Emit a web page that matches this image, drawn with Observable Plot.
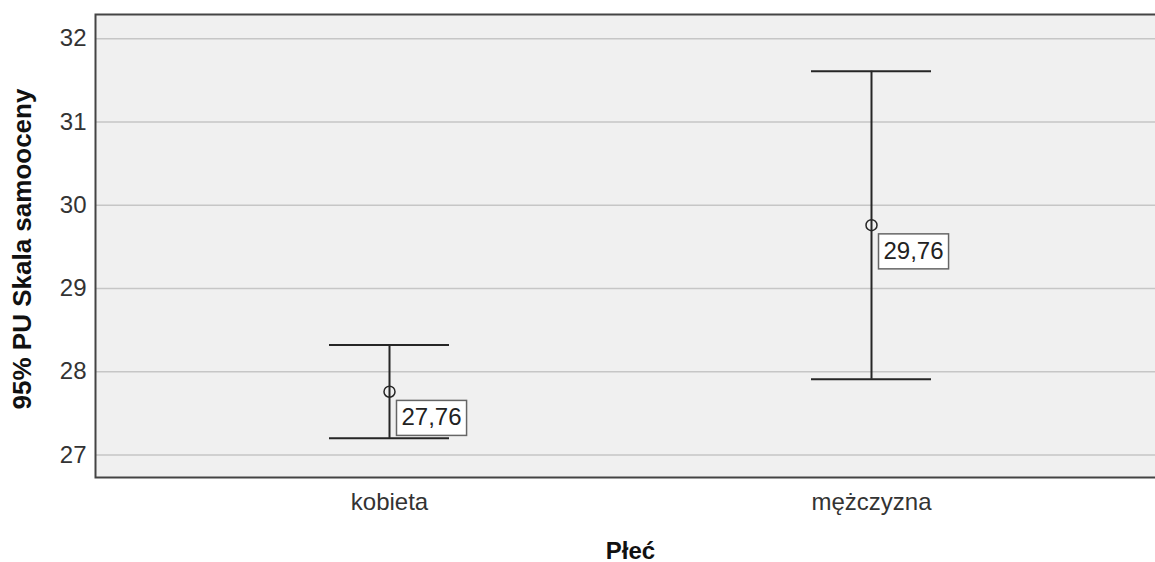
<!DOCTYPE html>
<html>
<head>
<meta charset="utf-8">
<script src="https://cdn.jsdelivr.net/npm/d3@7"></script>
<script src="https://cdn.jsdelivr.net/npm/@observablehq/plot@0.6"></script>
<style>
  html, body { margin: 0; padding: 0; background: #fff; overflow: hidden; }
  #chart { width: 1155px; height: 562px; overflow: hidden; }
</style>
</head>
<body>
<div id="chart"></div>
<script>
// Groups and 95% confidence intervals of the self-esteem scale
const groups = ["kobieta", "mężczyzna"];
const means = [27.76, 29.76];
const lower = [27.20, 27.91];
const upper = [28.32, 31.61];
const yTicks = [27, 28, 29, 30, 31, 32];
const yLabel = "95% PU Skala samooceny";
const xLabel = "Płeć";

const rows = groups.map((g, i) => ({group: g, mean: means[i], lo: lower[i], hi: upper[i]}));
const pl = d3.formatLocale({decimal: ",", thousands: " ", grouping: [3], currency: ["", ""]});
const fmt = pl.format(".2f");

const font = "Liberation Sans, Arial, sans-serif";
const ink = "#262626";

const chart = Plot.plot({
  width: 1170,
  height: 562,
  marginLeft: 95,
  marginRight: 5,
  marginTop: 14,
  marginBottom: 85,
  style: {fontFamily: font, background: "#fff", maxWidth: "none"},
  x: {type: "band", domain: groups, paddingInner: 0.751, paddingOuter: 0.485, label: null},
  y: {domain: [26.73, 32.29], label: null},
  marks: [
    Plot.frame({fill: "#f0f0f0"}),
    Plot.gridY(yTicks, {stroke: "#c6c6c6", strokeOpacity: 1, strokeWidth: 1.5}),
    Plot.axisY(yTicks, {tickSize: 0, tickPadding: 9, fontSize: 24, fill: "#333", label: null, tickFormat: d => String(d)}),
    Plot.axisX({tickSize: 0, tickPadding: 15, fontSize: 24, fill: "#333", label: null}),
    Plot.ruleX(rows, {x: "group", y1: "lo", y2: "hi", stroke: ink, strokeWidth: 2}),
    Plot.tickY(rows, {x: "group", y: "hi", stroke: ink, strokeWidth: 2}),
    Plot.tickY(rows, {x: "group", y: "lo", stroke: ink, strokeWidth: 2}),
    Plot.dot(rows, {x: "group", y: "mean", r: 5.5, stroke: ink, strokeWidth: 1.5, fill: "none"}),
    Plot.text(rows, {
      x: "group", y: "mean", text: d => fmt(d.mean),
      textAnchor: "start", dx: 12, dy: 26, fontSize: 24, fill: "#222",
      className: "value-label"
    }),
    Plot.text([yLabel], {
      frameAnchor: "left", textAnchor: "middle", rotate: -90, dx: -73, dy: 3,
      fontSize: 26, fontWeight: "bold", fill: "#111"
    }),
    Plot.text([xLabel], {
      frameAnchor: "bottom", dy: 81, fontSize: 24, fontWeight: "bold", fill: "#111"
    }),
    Plot.frame({stroke: "#444", strokeWidth: 2})
  ]
});

document.getElementById("chart").appendChild(chart);

// White boxes behind the value labels
d3.select(chart).selectAll("g.value-label text").each(function() {
  const b = this.getBBox();
  const t = this.getAttribute("transform");
  const padX = 5, padY = 5;
  d3.select(this.parentNode).insert("rect", () => this)
    .attr("transform", t)
    .attr("x", b.x - padX)
    .attr("y", b.y - padY + 2)
    .attr("width", b.width + 2 * padX)
    .attr("height", b.height + 2 * padY - 2)
    .attr("fill", "#fff")
    .attr("stroke", "#666")
    .attr("stroke-width", 1.5);
});
</script>
</body>
</html>
